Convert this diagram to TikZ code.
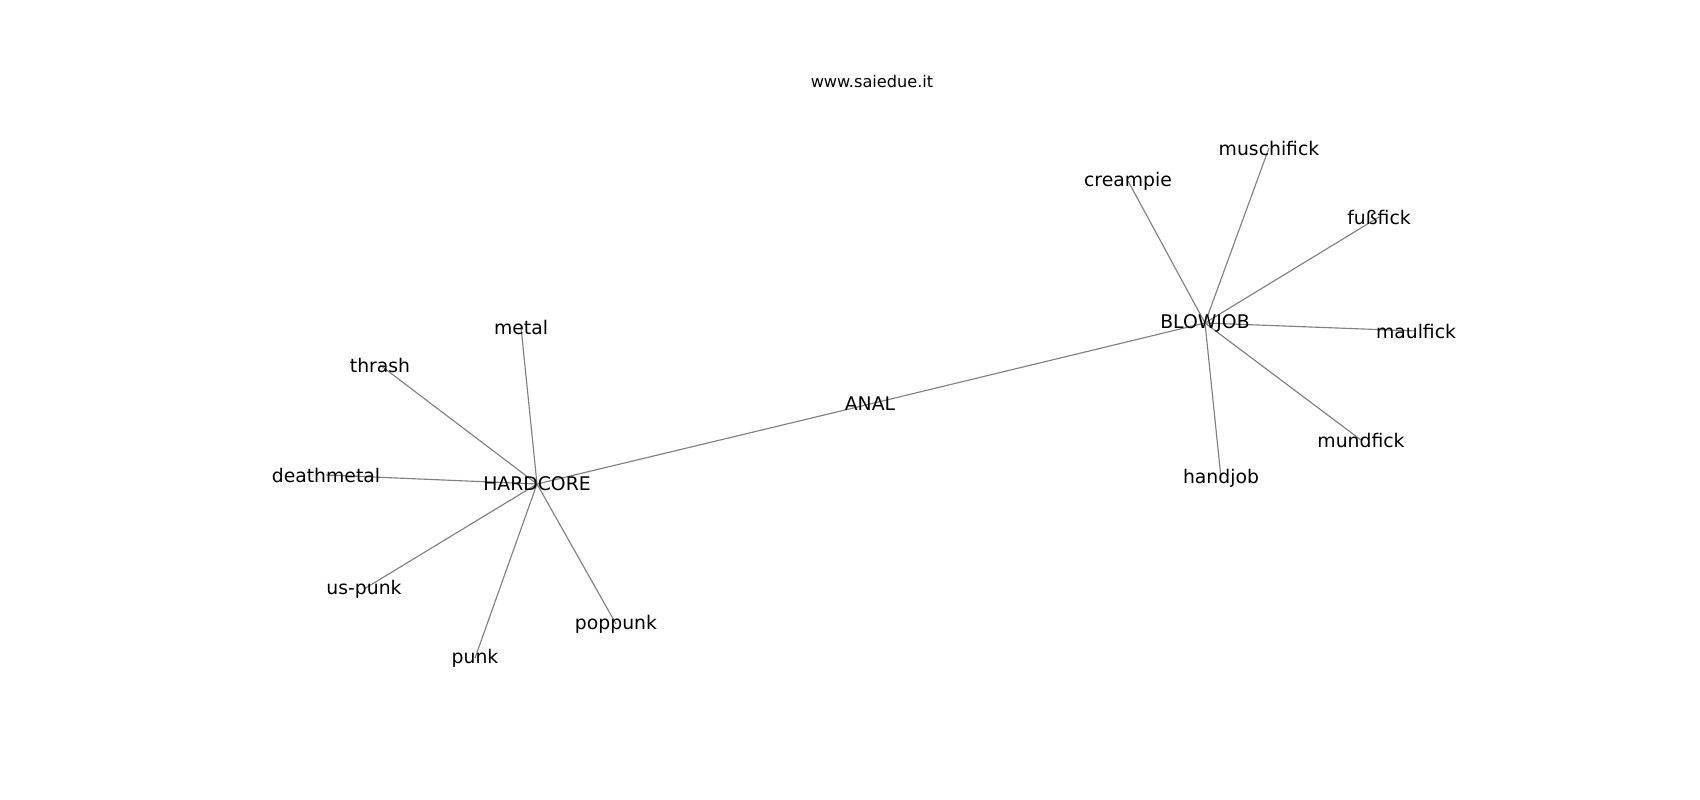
\documentclass[tikz,border=0pt]{standalone}
\usepackage{fontspec}
\setmainfont{DejaVu Sans}
\usepackage{tikz}
\usetikzlibrary{positioning,calc,backgrounds}

\begin{document}
\begin{tikzpicture}[x=0.02cm,y=-0.02cm,
    word/.style={inner sep=0pt,font=\fontsize{10.7}{12}\selectfont},
    link/.style={draw=gray,line width=0.65pt}]
    \useasboundingbox (0,0) rectangle (1700,800);
    \node[font=\fontsize{9.2}{11}\selectfont] (title) at (872,81) {www.saiedue.it};
    % hubs
    \node[word] (hardcore) at (537,484) {HARDCORE};
    \node[word] (anal) at (870,404) {ANAL};
    \node[word] (blowjob) at (1205,323) {BLOWJOB};
    % left
    \node[word] (metal) at (521,327) {metal};
    \node[word] (thrash) at (380,365) {thrash};
    \node[word] (deathmetal) at (326,475) {deathmetal};
    \node[word] (uspunk) at (364,589) {us-punk};
    \node[word] (punk) at (475,658) {punk};
    \node[word] (poppunk) at (616,624) {poppunk};
    % right
    \node[word] (creampie) at (1128,181) {creampie};
    \node[word] (muschifick) at (1269,148) {muschifick};
    \node[word] (fussfick) at (1379,217) {fußfick};
    \node[word] (maulfick) at (1416,331) {maulfick};
    \node[word] (mundfick) at (1361,440) {mundfick};
    \node[word] (handjob) at (1221,478) {handjob};
    \begin{pgfonlayer}{background}
    \path [link](hardcore.center) edge (anal.center);
    \path [link](anal.center) edge (blowjob.center);
    \path [link](hardcore.center) edge (metal.center);
    \path [link](hardcore.center) edge (thrash.center);
    \path [link](hardcore.center) edge (deathmetal.center);
    \path [link](hardcore.center) edge (uspunk.center);
    \path [link](hardcore.center) edge (punk.center);
    \path [link](hardcore.center) edge (poppunk.center);
    \path [link](blowjob.center) edge (creampie.center);
    \path [link](blowjob.center) edge (muschifick.center);
    \path [link](blowjob.center) edge (fussfick.center);
    \path [link](blowjob.center) edge (maulfick.center);
    \path [link](blowjob.center) edge (mundfick.center);
    \path [link](blowjob.center) edge (handjob.center);
    \end{pgfonlayer}
\end{tikzpicture}
\end{document}
